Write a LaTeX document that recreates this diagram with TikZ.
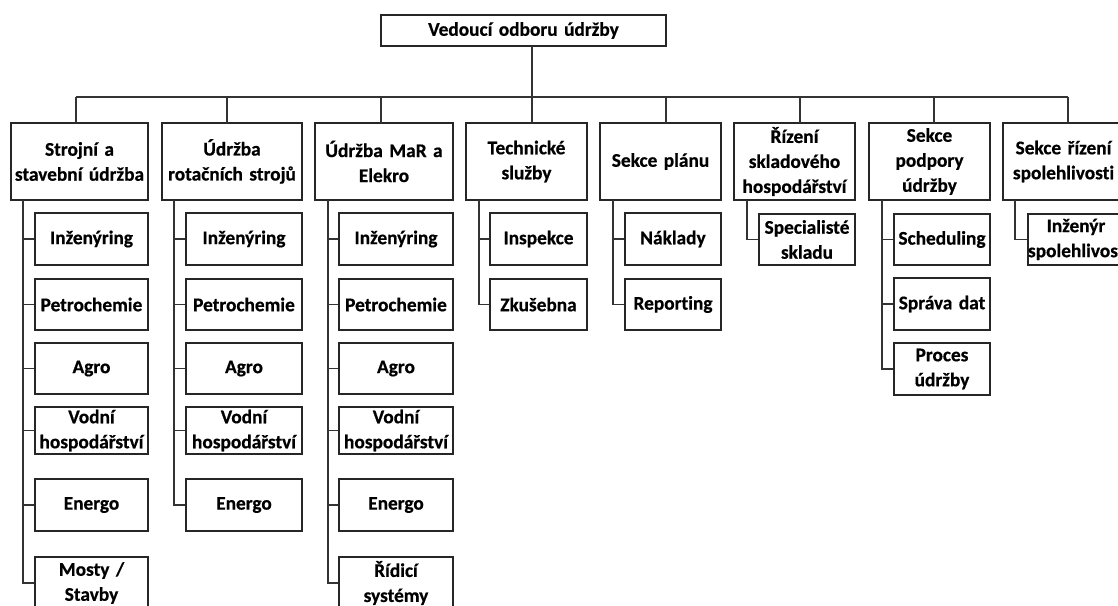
\documentclass[tikz,border=0pt]{standalone}
\usepackage{fontspec}
\setmainfont{Carlito}[Ligatures={NoCommon}, BoldFeatures={FakeBold=0.6}]
\begin{document}
\begin{tikzpicture}[x=0.75pt,y=-0.75pt,
  box/.style 2 args={draw=black!85, line width=0.9pt, fill=white, inner sep=0pt,
    align=center, text=black,
    font=\fontsize{14.5}{18.75}\selectfont\bfseries,
    minimum width=#1*0.75pt, minimum height=#2*0.75pt, text width=#1*0.75pt},
  link/.style={draw=black!80, line width=0.9pt}]
\useasboundingbox (0,0) rectangle (1118,606);
\clip (0,0) rectangle (1118,606);

% head of the department
\node[box={285}{31}] (root) at (523.5,30.5) {Vedoucí odboru údržby};

% sections
\node[box={137}{77}] (a) at (79.5,161.5)  {Strojní a\\stavební údržba};
\node[box={140}{77}] (b) at (232,161.5)   {Údržba\\rotačních strojů};
\node[box={138}{77}] (c) at (384,161.5)   {Údržba MaR a\\Elekro};
\node[box={121}{77}] (d) at (526.5,161.5) {Technické\\služby};
\node[box={121}{77}] (e) at (660.5,161.5) {Sekce plánu};
\node[box={121}{77}] (f) at (794.5,161.5) {Řízení\\skladového\\hospodářství};
\node[box={121}{77}] (g) at (929.5,161.5) {Sekce\\podpory\\údržby};
\node[box={121}{77}] (h) at (1063.5,161.5) {Sekce řízení\\spolehlivosti};

% connection points on the sections
\coordinate (rootfoot) at (532,46);
\coordinate (bus) at (532,97);
\coordinate (ha) at (76,123);
\coordinate (hb) at (227,123);
\coordinate (hc) at (381,123);
\coordinate (hd) at (532,123);
\coordinate (he) at (666,123);
\coordinate (hf) at (800,123);
\coordinate (hg) at (934,123);
\coordinate (hh) at (1068,123);

\draw[link] (rootfoot) -- (hd);
\draw[link] (ha |- bus) -- (hh |- bus);
\foreach \k in {a,b,c,e,f,g,h}
  \draw[link] (h\k) -- (h\k |- bus);

% units of the first section
\node[box={113}{52}] (a1) at (91.5,239)   {Inženýring};
\node[box={113}{51}] (a2) at (91.5,304.5) {Petrochemie};
\node[box={113}{51}] (a3) at (91.5,368.5) {Agro};
\node[box={113}{47}] (a4) at (91.5,430.5) {Vodní\\hospodářství};
\node[box={113}{52}] (a5) at (91.5,505)   {Energo};
\node[box={113}{52}] (a6) at (91.5,583)   {Mosty /\\Stavby};

% units of the second section
\node[box={116}{52}] (b1) at (244,239)   {Inženýring};
\node[box={116}{51}] (b2) at (244,304.5) {Petrochemie};
\node[box={116}{51}] (b3) at (244,368.5) {Agro};
\node[box={116}{47}] (b4) at (244,430.5) {Vodní\\hospodářství};
\node[box={116}{52}] (b5) at (244,505)   {Energo};

% units of the third section
\node[box={114}{52}] (c1) at (396,239)   {Inženýring};
\node[box={114}{51}] (c2) at (396,304.5) {Petrochemie};
\node[box={114}{51}] (c3) at (396,368.5) {Agro};
\node[box={114}{47}] (c4) at (396,430.5) {Vodní\\hospodářství};
\node[box={114}{52}] (c5) at (396,505)   {Energo};
\node[box={114}{52}] (c6) at (396,583)   {Řídicí\\systémy};

% technical services
\node[box={97}{52}] (d1) at (538.5,239)   {Inspekce};
\node[box={97}{51}] (d2) at (538.5,304.5) {Zkušebna};

% planning
\node[box={96}{52}] (e1) at (673,239)   {Náklady};
\node[box={96}{51}] (e2) at (673,304.5) {Reporting};

% stores
\node[box={96}{51}] (f1) at (807,239.5) {Specialisté\\skladu};

% maintenance support
\node[box={96}{51}] (g1) at (942,239.5) {Scheduling};
\node[box={96}{52}] (g2) at (942,304)   {Správa dat};
\node[box={96}{52}] (g3) at (942,369)   {Proces\\údržby};

% reliability
\node[box={96}{51}] (h1) at (1076,239.5) {Inženýr\\spolehlivosti};

% trunks from the sections down to their units
\coordinate (ta) at (23,200);
\coordinate (tb) at (174,200);
\coordinate (tc) at (328,200);
\coordinate (td) at (479,200);
\coordinate (te) at (613,200);
\coordinate (tf) at (747,200);
\coordinate (tg) at (882,200);
\coordinate (th) at (1015,200);

\foreach \n in {1,...,6} \draw[link] (ta) |- (a\n.west);
\foreach \n in {1,...,5} \draw[link] (tb) |- (b\n.west);
\foreach \n in {1,...,6} \draw[link] (tc) |- (c\n.west);
\foreach \n in {1,2} \draw[link] (td) |- (d\n.west);
\foreach \n in {1,2} \draw[link] (te) |- (e\n.west);
\draw[link] (tf) |- (f1.west);
\foreach \n in {1,2,3} \draw[link] (tg) |- (g\n.west);
\draw[link] (th) |- (h1.west);
\end{tikzpicture}
\end{document}
